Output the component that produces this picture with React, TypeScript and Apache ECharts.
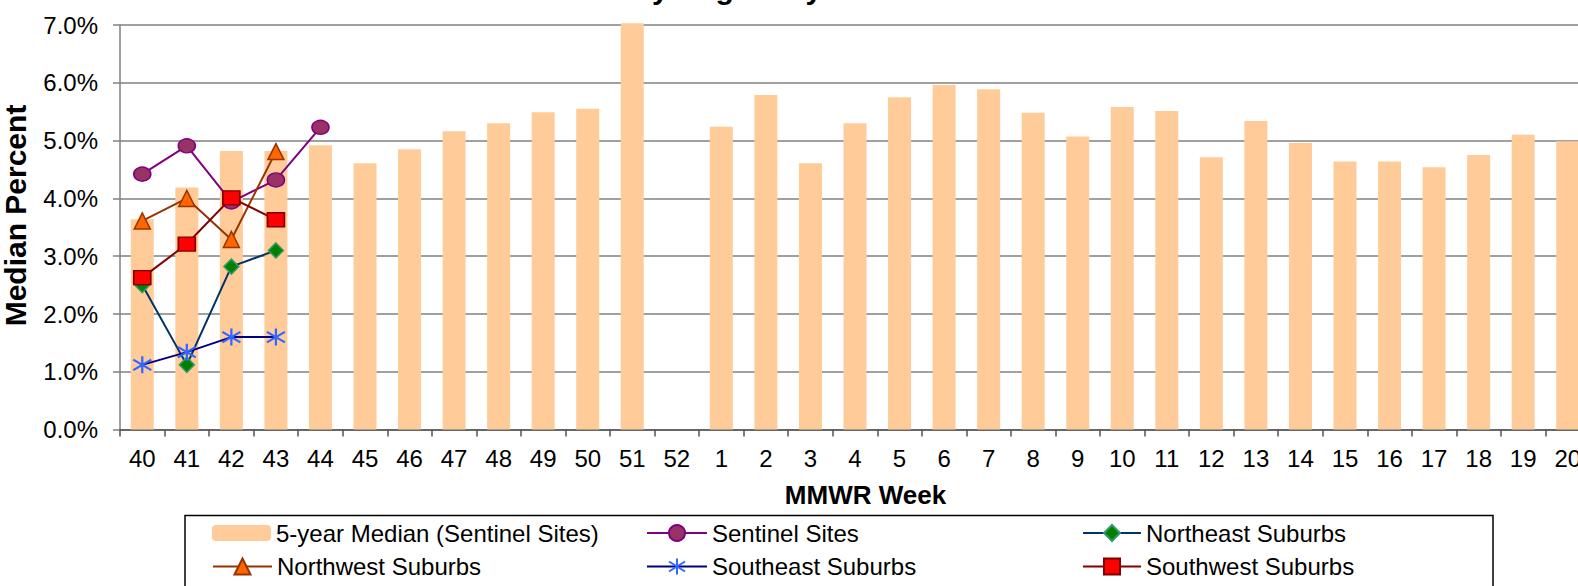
import React, { useEffect, useRef } from "react";
import * as echarts from "echarts";

const weeks = [
  "40", "41", "42", "43", "44", "45", "46", "47", "48", "49", "50", "51", "52",
  "1", "2", "3", "4", "5", "6", "7", "8", "9", "10", "11", "12", "13", "14", "15", "16", "17", "18", "19", "20",
];

const fiveYearMedian = [
  3.64, 4.19, 4.82, 4.82, 4.92, 4.61, 4.85, 5.16, 5.30, 5.49, 5.55, 7.03, null,
  5.24, 5.79, 4.61, 5.30, 5.75, 5.96, 5.89, 5.48, 5.07, 5.58, 5.51, 4.71, 5.34, 4.96, 4.64, 4.64, 4.54, 4.75, 5.10, 4.99,
];

const sentinelSites = [4.42, 4.91, 3.94, 4.32, 5.23];
const northeastSuburbs = [2.50, 1.12, 2.82, 3.10];
const northwestSuburbs = [3.61, 4.00, 3.29, 4.81];
const southeastSuburbs = [1.12, 1.34, 1.60, 1.60];
const southwestSuburbs = [2.63, 3.21, 4.01, 3.63];

const yTicks = [0, 1, 2, 3, 4, 5, 6, 7];

const FONT = "'Liberation Sans', Arial, Helvetica, sans-serif";
const LEGEND_FONT = 24;

function pad(values: (number | null)[]) {
  const out: (number | null)[] = values.slice();
  while (out.length < weeks.length) out.push(null);
  return out;
}

const ASTERISK = "path://M8 0L8 16M1 3L15 13M1 13L15 3";

function legendAt(name: string, left: number, rowCenter: number, w: number, h: number) {
  const boxH = Math.max(h, LEGEND_FONT);
  return {
    data: [name],
    left,
    top: rowCenter - boxH / 2,
    orient: "horizontal",
    padding: 0,
    itemWidth: w,
    itemHeight: h,
    itemGap: 0,
    selectedMode: false,
    textStyle: { fontSize: LEGEND_FONT, color: "#000", fontFamily: FONT },
  };
}

export default function App() {
  const ref = useRef<HTMLDivElement>(null);

  useEffect(() => {
    const chart = echarts.init(ref.current!, null, { renderer: "svg" });
    const lineSeries = (
      name: string,
      values: number[],
      symbol: string,
      symbolSize: number | number[],
      lineColor: string,
      fill: string,
      border: string,
      borderWidth: number
    ) => ({
      name,
      type: "line",
      data: pad(values),
      symbol,
      symbolSize,
      connectNulls: false,
      lineStyle: { color: lineColor, width: 2 },
      itemStyle: { color: fill, borderColor: border, borderWidth },
      emphasis: { disabled: true },
      z: 3,
    });

    const option: any = {
      animation: false,
      backgroundColor: "#ffffff",
      textStyle: { fontFamily: FONT },
      grid: { left: 120, right: 10, top: 25, bottom: 156.4, containLabel: false },
      xAxis: {
        type: "category",
        data: weeks,
        boundaryGap: true,
        axisLine: { show: true, lineStyle: { color: "#555555", width: 1.5 } },
        axisTick: { show: true, inside: false, length: 7, alignWithLabel: false, lineStyle: { color: "#555555", width: 1.5 } },
        axisLabel: { interval: 0, fontSize: 24, color: "#000", margin: 17, fontFamily: FONT },
        splitLine: { show: false },
      },
      yAxis: {
        type: "value",
        min: yTicks[0],
        max: yTicks[yTicks.length - 1],
        interval: 1,
        axisLine: { show: true, lineStyle: { color: "#808080", width: 1.5 } },
        axisTick: { show: true, inside: false, length: 7, lineStyle: { color: "#808080", width: 1.5 } },
        axisLabel: {
          fontSize: 24,
          color: "#000",
          margin: 22,
          fontFamily: FONT,
          formatter: (v: number) => v.toFixed(1) + "%",
        },
        splitLine: { show: true, lineStyle: { color: "#808080", width: 1.5 } },
      },
      legend: [
        legendAt("5-year Median (Sentinel Sites)", 212, 533, 59, 16),
        legendAt("Sentinel Sites", 646, 533, 60, 20),
        legendAt("Northeast Suburbs", 1082, 533, 58, 20),
        legendAt("Northwest Suburbs", 212, 566.5, 59, 20),
        legendAt("Southeast Suburbs", 646, 566.5, 60, 20),
        legendAt("Southwest Suburbs", 1082, 566.5, 58, 20),
      ],
      graphic: [
        {
          type: "text",
          x: 472,
          y: 3,
          style: {
            text: "Percent ILI by Region by Week",
            fontSize: 30,
            fontWeight: "bold",
            fontFamily: FONT,
            fill: "#000",
            textAlign: "left",
            textVerticalAlign: "bottom",
          },
          silent: true,
        },
        {
          type: "text",
          x: 15,
          y: 215.5,
          rotation: Math.PI / 2,
          style: {
            text: "Median Percent",
            fontSize: 30,
            fontWeight: "bold",
            fontFamily: FONT,
            fill: "#000",
            textAlign: "center",
            textVerticalAlign: "middle",
          },
          silent: true,
        },
        {
          type: "text",
          x: 865.5,
          y: 494.7,
          style: {
            text: "MMWR Week",
            fontSize: 26,
            fontWeight: "bold",
            fontFamily: FONT,
            fill: "#000",
            textAlign: "center",
            textVerticalAlign: "middle",
          },
          silent: true,
        },
        {
          type: "rect",
          shape: { x: 185, y: 515.5, width: 1308, height: 120 },
          style: { fill: "none", stroke: "#000", lineWidth: 1.5 },
          silent: true,
          z: -1,
        },
      ],
      series: [
        {
          name: "5-year Median (Sentinel Sites)",
          type: "bar",
          data: fiveYearMedian,
          barWidth: 23,
          clip: false,
          itemStyle: { color: "#FFCC99" },
          emphasis: { disabled: true },
          z: 2,
        },
        lineSeries("Sentinel Sites", sentinelSites, "circle", [17, 14], "#800080", "#993366", "#800080", 1.5),
        lineSeries("Northeast Suburbs", northeastSuburbs, "diamond", [15, 15], "#003366", "#008000", "#339966", 1.5),
        lineSeries("Northwest Suburbs", northwestSuburbs, "triangle", [16, 16], "#993300", "#FF6600", "#993300", 1.5),
        lineSeries("Southeast Suburbs", southeastSuburbs, ASTERISK, [18, 17], "#000080", "#3366FF", "#3366FF", 2.2),
        lineSeries("Southwest Suburbs", southwestSuburbs, "rect", [17, 14], "#800000", "#FF0000", "#800000", 1.5),
      ],
    };
    chart.setOption(option);
    return () => chart.dispose();
  }, []);

  return (
    <div
      style={{
        position: "fixed",
        left: 0,
        top: 0,
        width: 1578,
        height: 586,
        overflow: "hidden",
        background: "#fff",
      }}
    >
      <div ref={ref} style={{ width: 1600, height: 586 }} />
    </div>
  );
}
